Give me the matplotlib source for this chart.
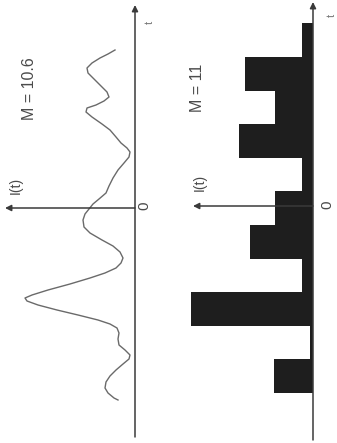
'''
plot.py

Two rotated spectra: a smooth intensity curve I(t) (M = 10.6) and the
matching step histogram with 11 bins (M = 11). The time axis runs upwards
and the intensity grows to the left, as in the scanned figure.
'''

import matplotlib.pyplot as plt
import numpy as np

# smooth curve, read from top (large t) to bottom (negative t)
curve_t = [15.8, 15.4, 15.0, 14.5, 14.0, 13.5, 13.0, 12.3, 11.6, 11.1,
           10.7, 10.3, 10.0, 9.6, 9.1, 8.4, 7.8, 7.1, 6.5, 6.0,
           5.6, 5.1, 4.5, 3.8, 3.0, 2.2, 1.5, 0.9, 0.4, -0.1,
           -0.6, -1.2, -1.9, -2.5, -3.2, -3.8, -4.4, -5.0, -5.5, -6.0,
           -6.5, -7.0, -7.6, -8.2, -8.7, -9.0, -9.3, -9.7, -10.2, -10.7,
           -11.2, -11.6, -12.0, -12.5, -13.1, -13.7, -14.2, -14.7, -15.1,
           -15.6, -16.2, -16.8, -17.4, -18.0, -18.5, -19.0, -19.2]
curve_I = [2.0, 2.7, 3.5, 4.3, 4.8, 4.7, 4.2, 3.5, 2.8, 2.6,
           3.1, 3.9, 4.8, 4.9, 4.3, 3.3, 2.5, 1.9, 1.4, 0.8,
           0.5, 0.6, 1.1, 1.7, 2.2, 2.6, 2.9, 3.6, 4.2, 4.6,
           5.0, 5.2, 5.1, 4.5, 3.3, 2.2, 1.5, 1.2, 1.4, 1.9,
           3.0, 4.5, 6.5, 8.7, 10.3, 11.0, 10.8, 9.7, 7.8, 5.7,
           3.7, 2.5, 1.8, 1.6, 1.7, 1.6, 1.0, 0.5, 0.6,
           1.2, 1.9, 2.5, 2.9, 3.0, 2.7, 2.1, 1.7]

# histogram with 11 bins, bottom to top
bin_edges = [-18.7, -15.34, -11.98, -8.62, -5.26, -1.9, 1.46, 4.82,
             8.18, 11.54, 14.9, 18.26]
bin_values = [3.9, 0.3, 12.2, 1.1, 6.3, 3.8, 1.1, 7.4, 3.8, 6.8, 1.1]

labels = ['M = 10.6', 'M = 11']

plt.rcParams['font.family'] = ['Liberation Sans', 'DejaVu Sans']

fig = plt.figure(figsize=(3.37, 4.43), dpi=100)
ax1 = fig.add_axes([0, 0, 170 / 337, 1])
ax2 = fig.add_axes([170 / 337, 0, 167 / 337, 1])

axis_col = '#3a3a3a'
text_col = '#4a4a4a'


def draw_axes(ax, t_lo, t_hi, i_hi):
    arrow = dict(arrowstyle='-|>', color=axis_col, lw=1.1,
                 mutation_scale=9, shrinkA=0, shrinkB=0)
    ax.annotate('', xy=(0, t_hi), xytext=(0, t_lo), arrowprops=arrow)
    ax.annotate('', xy=(i_hi, 0), xytext=(0, 0), arrowprops=arrow)
    ax.set_axis_off()


# left panel: smooth curve
ax1.set_xlim(13.5, -3.5)
ax1.set_ylim(-23.5, 20.8)
ax1.plot(curve_I, curve_t, color='#6a6a6a', lw=1.0)
draw_axes(ax1, -22.9, 20.3, 13.0)
ax1.text(10.5, 11.9, labels[0], rotation=90, ha='center', va='center',
         fontsize=11.5, color=text_col)
ax1.text(11.9, 2.3, 'I(t)', rotation=90, ha='center', va='center',
         fontsize=10, color=text_col)
ax1.text(-0.9, 0.2, '0', rotation=90, ha='center', va='center',
         fontsize=11, color=text_col)
ax1.text(-1.5, 18.6, 't', rotation=90, ha='center', va='center',
         fontsize=8, color='#777777')

# right panel: step histogram
ax2.set_xlim(14.3, -2.4)
ax2.set_ylim(-23.7, 20.6)
ax2.stairs(bin_values, bin_edges, orientation='horizontal', fill=True,
           color='#1e1e1e')
draw_axes(ax2, -23.4, 20.4, 12.0)
ax2.text(11.6, 11.8, labels[1], rotation=90, ha='center', va='center',
         fontsize=11.5, color=text_col)
ax2.text(11.3, 2.4, 'I(t)', rotation=90, ha='center', va='center',
         fontsize=10, color=text_col)
ax2.text(-1.4, 0.1, '0', rotation=90, ha='center', va='center',
         fontsize=11, color=text_col)
ax2.text(-1.9, 19.1, 't', rotation=90, ha='center', va='center',
         fontsize=8, color='#777777')

fig.savefig('out.png', dpi=100)
